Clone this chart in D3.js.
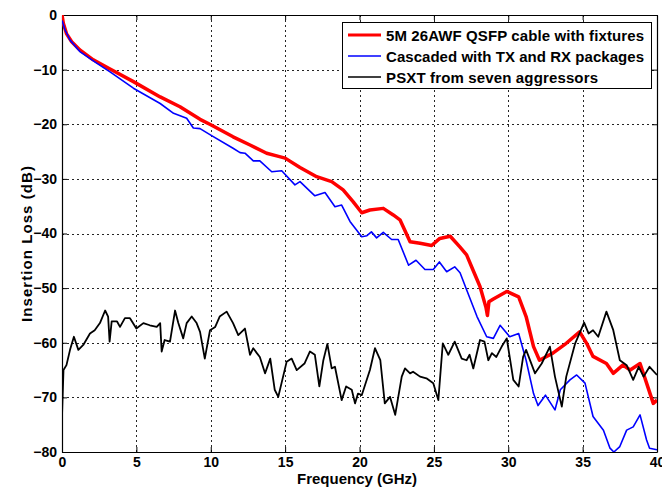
<!DOCTYPE html>
<html><head><meta charset="utf-8">
<script src="https://cdn.jsdelivr.net/npm/d3@7"></script>
<style>
html,body{margin:0;padding:0;background:#fff;}
svg{display:block;font-family:"Liberation Sans",Arial,sans-serif;font-weight:bold;}
</style></head>
<body>
<script>
// ---- data ----
const xTicks = [0,5,10,15,20,25,30,35,40];
const yTicks = [0,-10,-20,-30,-40,-50,-60,-70,-80];
const seriesNames = ["5M 26AWF QSFP cable with fixtures","Cascaded with TX and RX packages","PSXT from seven aggressors"];
const seriesColors = ["#ff0000","#0000ff","#000000"];

const cableFreq = [0,0.09,0.3,0.65,1.2,2.1,3.23,4.8,6.6,7.93,9.28,10.0,11.5,12.64,13.76,14.43,15.0,16.0,17.12,18.13,18.9,19.58,20.15,20.7,21.6,22.27,22.72,23.4,24.07,24.85,25.4,26.1,26.76,27.2,27.6,28.1,28.5,28.6,28.7,29.0,29.9,30.7,31.2,31.7,32.1,33.0,33.9,34.8,35.27,35.7,36.6,37.06,37.7,38.2,38.86,39.3,39.75,40];
const cableLoss = [0,-1.5,-3.4,-4.9,-6.4,-8.2,-9.9,-12.2,-15.0,-16.8,-19.1,-20.1,-22.3,-23.8,-25.3,-25.8,-26.2,-27.9,-29.6,-30.5,-32.0,-34.2,-36.2,-35.7,-35.4,-36.6,-37.5,-41.5,-41.8,-42.2,-40.9,-40.5,-42.5,-43.9,-46.5,-49.7,-53.5,-55.0,-52.5,-52.0,-50.6,-51.6,-55.2,-60.7,-63.2,-61.9,-60.1,-58.0,-60.1,-62.5,-63.8,-65.6,-64.1,-65.0,-63.8,-67.4,-71.1,-70.5];

const pkgFreq = [0,0.2,0.54,1.2,2.33,3.23,4.8,6.6,7.5,8.38,8.83,9.28,10,11.5,11.97,12.3,12.86,13.3,14.1,14.77,15.66,16.0,17.0,17.68,18.35,18.8,19.36,20.15,20.5,20.8,21.15,21.6,22.16,22.6,23.3,23.8,24.4,24.96,25.37,25.86,26.4,26.76,27.2,27.9,28.55,29.0,29.45,30.1,30.7,31.2,31.7,32.0,32.5,33.14,33.5,34.15,34.6,35.16,35.7,36.4,36.84,37.1,37.5,37.96,38.4,38.86,39.3,39.5,40];
const pkgLoss = [-1,-2.7,-4.6,-6.7,-8.8,-10.4,-13.4,-16.2,-18.0,-18.9,-20.7,-20.8,-22.0,-24.4,-25.2,-25.3,-26.7,-26.7,-28.7,-28.5,-31.1,-30.5,-33.1,-32.5,-35.1,-34.8,-37.8,-40.6,-40.4,-39.7,-40.8,-39.8,-41.1,-41.1,-45.8,-44.9,-46.6,-46.6,-45.2,-47.0,-46.1,-47.2,-50.3,-55.2,-58.9,-59.2,-56.8,-58.9,-58.3,-63.2,-69.3,-71.5,-69.6,-72.3,-68.6,-66.8,-65.9,-67.4,-73.5,-76.0,-79.3,-80,-79.0,-76.0,-75.4,-73.2,-77.8,-79.3,-79.6];

const xtFreq = [0,0.1,0.3,0.54,0.8,1.1,1.43,1.88,2.2,2.55,2.9,3.1,3.2,3.34,3.7,3.9,4.23,4.57,5.0,5.47,5.9,6.37,6.6,6.7,6.9,7.26,7.6,7.82,8.15,8.38,8.72,9.05,9.28,9.6,9.95,10.3,10.6,11.07,11.5,11.85,12.3,12.64,12.86,13.1,13.3,13.65,14.0,14.3,14.54,15.1,15.44,15.78,16.3,16.67,17.0,17.3,17.57,17.84,18.13,18.35,18.8,19.1,19.48,19.7,19.9,20.15,20.7,21.04,21.4,21.7,22.05,22.4,22.84,23.06,23.4,23.6,24.07,24.5,24.96,25.3,25.6,25.97,26.4,26.87,27.2,27.4,27.65,28.1,28.4,28.66,28.9,29.2,29.56,29.9,30.34,30.7,31.0,31.2,31.8,32.25,32.8,33.14,33.6,33.9,34.5,35.1,35.4,35.7,36.05,36.6,37.06,37.5,37.96,38.4,38.77,39.1,39.5,40];
const xtLoss = [-73.5,-65.0,-64.1,-61.3,-58.9,-61.3,-60.4,-58.3,-57.7,-56.4,-54.1,-55.2,-59.8,-56.1,-56.1,-57.1,-55.5,-55.5,-57.4,-56.4,-56.8,-57.1,-56.4,-61.6,-59.5,-59.8,-54.1,-56.4,-59.2,-56.4,-55.2,-56.4,-58.0,-62.9,-57.7,-57.1,-55.2,-54.3,-56.4,-58.6,-57.4,-62.2,-61.0,-61.9,-62.6,-65.6,-62.9,-68.6,-69.9,-63.5,-62.9,-65.0,-63.8,-61.6,-62.2,-68.0,-63.2,-60.2,-64.7,-64.4,-70.5,-68.0,-68.6,-71.1,-69.3,-69.6,-65.0,-61.0,-63.2,-71.1,-69.9,-73.2,-66.2,-64.7,-65.6,-65.3,-66.2,-66.5,-67.4,-70.5,-60.1,-62.2,-59.8,-62.9,-63.2,-62.2,-64.7,-59.5,-59.8,-63.2,-61.9,-62.6,-60.7,-59.2,-66.8,-68.0,-62.6,-61.3,-65.6,-63.8,-60.7,-66.2,-71.7,-66.2,-60.1,-56.3,-58.3,-57.7,-58.9,-54.3,-57.7,-63.2,-64.1,-66.8,-64.4,-66.2,-64.4,-65.9];

const xLabel = "Frequency (GHz)";
const yLabel = "Insertion Loss (dB)";

// ---- chart ----
const W = 662, H = 492;
const m = {left:62, top:15, right:5, bottom:40};
const pw = W - m.left - m.right, ph = H - m.top - m.bottom;

const svg = d3.select("body").append("svg").attr("width", W).attr("height", H);
const x = d3.scaleLinear().domain([0,40]).range([m.left, m.left+pw]);
const y = d3.scaleLinear().domain([-80,0]).range([m.top+ph, m.top]);

svg.append("defs").append("clipPath").attr("id","clip")
  .append("rect").attr("x", m.left).attr("y", m.top).attr("width", pw).attr("height", ph);

// grid
const grid = svg.append("g").attr("stroke","#000").attr("stroke-width",1).attr("stroke-dasharray","2,3").attr("opacity",0.85);
xTicks.slice(1,-1).forEach(t => grid.append("line").attr("x1", Math.round(x(t))+0.5).attr("x2", Math.round(x(t))+0.5).attr("y1", m.top).attr("y2", m.top+ph));
yTicks.slice(1,-1).forEach(t => grid.append("line").attr("y1", Math.round(y(t))+0.5).attr("y2", Math.round(y(t))+0.5).attr("x1", m.left).attr("x2", m.left+pw));

// axes
const fmt = d => d3.format("d")(d);
const xAxis = svg.append("g").attr("transform",`translate(0,${m.top+ph})`)
  .call(d3.axisBottom(x).tickValues(xTicks).tickSizeInner(-5).tickSizeOuter(0).tickPadding(5).tickFormat(fmt));
const yAxis = svg.append("g").attr("transform",`translate(${m.left},0)`)
  .call(d3.axisLeft(y).tickValues(yTicks).tickSizeInner(-5).tickSizeOuter(0).tickPadding(5).tickFormat(fmt));
const xAxisT = svg.append("g").attr("transform",`translate(0,${m.top})`)
  .call(d3.axisTop(x).tickValues(xTicks).tickSizeInner(-5).tickSizeOuter(0).tickFormat(""));
const yAxisR = svg.append("g").attr("transform",`translate(${m.left+pw},0)`)
  .call(d3.axisRight(y).tickValues(yTicks).tickSizeInner(-5).tickSizeOuter(0).tickFormat(""));
[xAxis,yAxis,xAxisT,yAxisR].forEach(g=>{
  g.select(".domain").attr("stroke","#000").attr("stroke-width",1.2);
  g.selectAll("line").attr("stroke","#000");
  g.selectAll("text").attr("font-size",14).attr("font-weight","bold").attr("fill","#000").attr("font-family","Liberation Sans, Arial, sans-serif");
});

// lines
const line = d3.line().x(d=>x(d[0])).y(d=>y(d[1]));
const series = [
  {f: cableFreq, v: cableLoss, w: 3.5},
  {f: pkgFreq, v: pkgLoss, w: 1.6},
  {f: xtFreq, v: xtLoss, w: 1.8}
];
const plot = svg.append("g").attr("clip-path","url(#clip)");
series.forEach((s,i)=>{
  plot.append("path").datum(s.f.map((f,j)=>[f,s.v[j]]))
    .attr("fill","none").attr("stroke",seriesColors[i]).attr("stroke-width",s.w)
    .attr("stroke-linejoin","round").attr("d",line);
});

// legend
const legendLens = [258, 258, 212];
const lg = svg.append("g");
lg.append("rect").attr("x",342.5).attr("y",22.5).attr("width",309).attr("height",66)
  .attr("fill","#fff").attr("stroke","#000").attr("stroke-width",1);
seriesNames.forEach((n,i)=>{
  const yy = 35 + i*21;
  lg.append("line").attr("x1",348).attr("x2",381).attr("y1",yy).attr("y2",yy)
    .attr("stroke",seriesColors[i]).attr("stroke-width",i===0?3:1.6);
  lg.append("text").attr("x",386).attr("y",yy+5.5).text(n)
    .attr("font-size",15).attr("fill","#000")
    .attr("textLength",legendLens[i]).attr("lengthAdjust","spacing");
});

// labels
svg.append("text").attr("x", 357).attr("y", 484).attr("text-anchor","middle")
  .attr("font-size",15).attr("textLength",120).attr("lengthAdjust","spacing").text(xLabel);
svg.append("text").attr("transform","translate(32,244) rotate(-90)").attr("text-anchor","middle")
  .attr("font-size",15).attr("textLength",156).attr("lengthAdjust","spacing").text(yLabel);
</script>
</body></html>
